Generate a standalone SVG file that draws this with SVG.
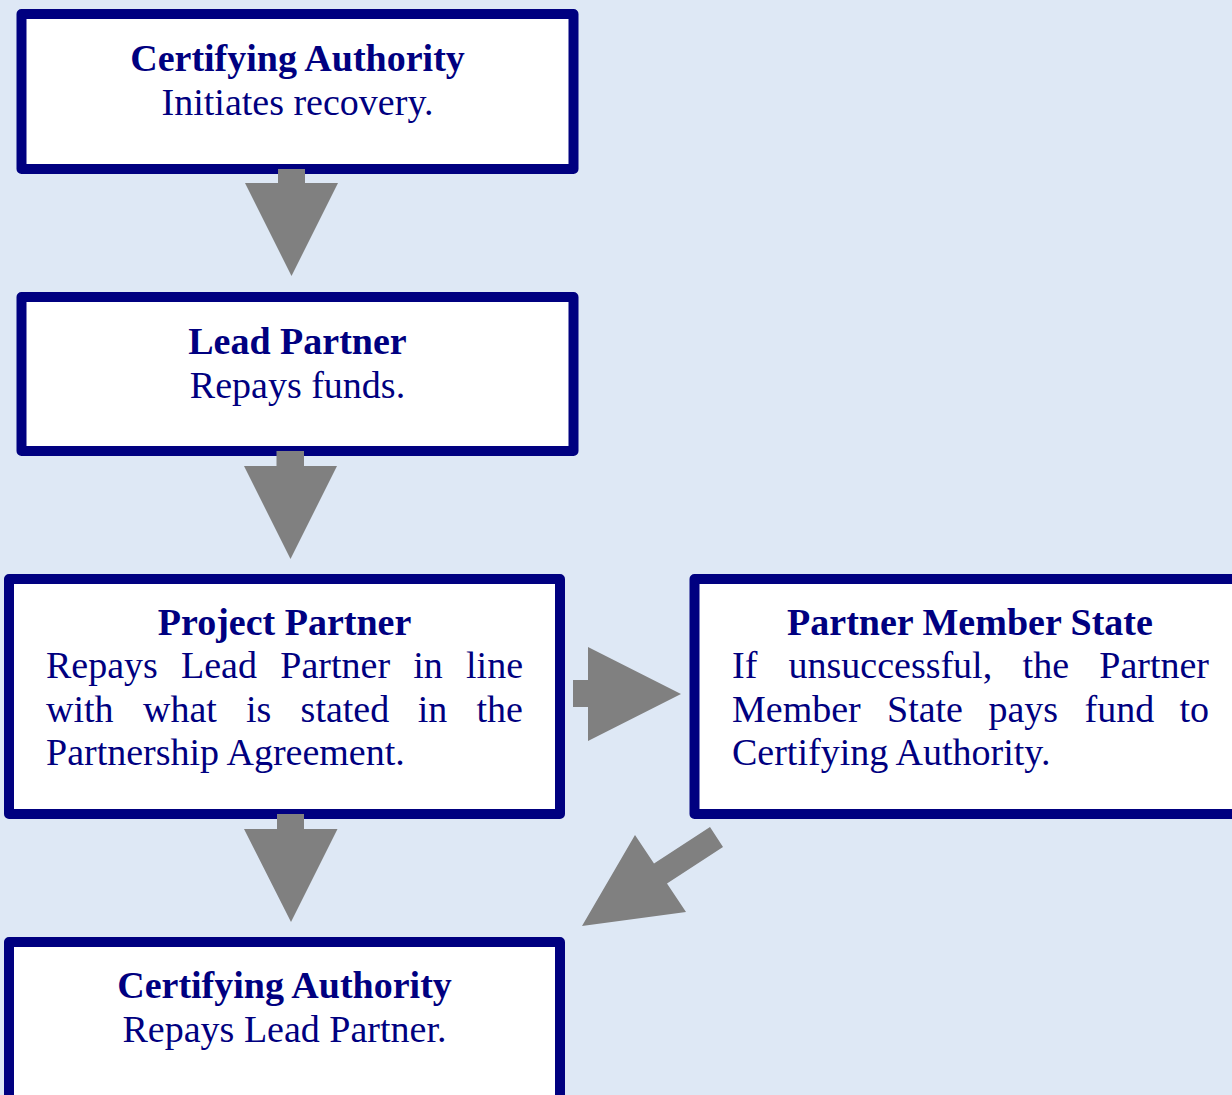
<svg xmlns="http://www.w3.org/2000/svg" width="1232" height="1095" viewBox="0 0 1232 1095">
<style>
.box{fill:#ffffff;stroke:#000080;stroke-width:10;stroke-linejoin:round}
.arrow{fill:#808080}
text{font-family:"Liberation Serif","Times New Roman",serif;font-size:38px;fill:#000080}
.t{font-weight:bold;text-anchor:middle}
.c{text-anchor:middle}
.e{text-anchor:end}
</style>
<rect x="0" y="0" width="1232" height="1095" fill="#dee8f5"/>
<g id="node-ca1">
<rect class="box" x="21.5" y="14" width="552" height="155"/>
<text class="t" x="297.5" y="70.5">Certifying Authority</text>
<text class="c" x="297.5" y="114.5">Initiates recovery.</text>
</g>
<g id="node-lp">
<rect class="box" x="21.5" y="297" width="552" height="154"/>
<text class="t" x="297.5" y="353.5">Lead Partner</text>
<text class="c" x="297.5" y="397.5">Repays funds.</text>
</g>
<g id="node-pp">
<rect class="box" x="9" y="579" width="551" height="235"/>
<text class="t" x="284.5" y="634.5">Project Partner</text>
<text y="678"><tspan x="46">Repays</tspan><tspan x="181">Lead</tspan><tspan x="280.3">Partner</tspan><tspan x="413.2">in</tspan></text>
<text class="e" x="523" y="678">line</text>
<text y="721.5"><tspan x="46">with</tspan><tspan x="143">what</tspan><tspan x="246">is</tspan><tspan x="300.6">stated</tspan><tspan x="417.8">in</tspan></text>
<text class="e" x="523" y="721.5">the</text>
<text x="46" y="765">Partnership Agreement.</text>
</g>
<g id="node-pms">
<rect class="box" x="694.5" y="579" width="552.5" height="235"/>
<text class="t" x="970" y="634.5">Partner Member State</text>
<text y="678"><tspan x="732">If</tspan><tspan x="788.5">unsuccessful,</tspan><tspan x="1022.6">the</tspan></text>
<text class="e" x="1209" y="678">Partner</text>
<text y="721.5"><tspan x="732">Member</tspan><tspan x="887">State</tspan><tspan x="988.4">pays</tspan><tspan x="1084.5">fund</tspan></text>
<text class="e" x="1209" y="721.5">to</text>
<text x="732" y="765">Certifying Authority.</text>
</g>
<g id="node-ca2">
<rect class="box" x="9" y="942" width="551" height="240"/>
<text class="t" x="284.5" y="998">Certifying Authority</text>
<text class="c" x="284.5" y="1042">Repays Lead Partner.</text>
</g>
<g id="connectors">
<polygon class="arrow" points="278,169 305,169 305,183 338,183 291.5,276 245,183 278,183"/>
<polygon class="arrow" points="276.5,451 304,451 304,466 337,466 290.5,559 244,466 276.5,466"/>
<polygon class="arrow" points="277,814 304,814 304,829 337.5,829 291,922 244,829 277,829"/>
<polygon class="arrow" points="573,680 588,680 588,647 681,694 588,741 588,707 573,707"/>
<polygon class="arrow" points="710,827 723,847 667,883.5 686,912 582,926 635,835 654,863.5"/>
</g>
</svg>
